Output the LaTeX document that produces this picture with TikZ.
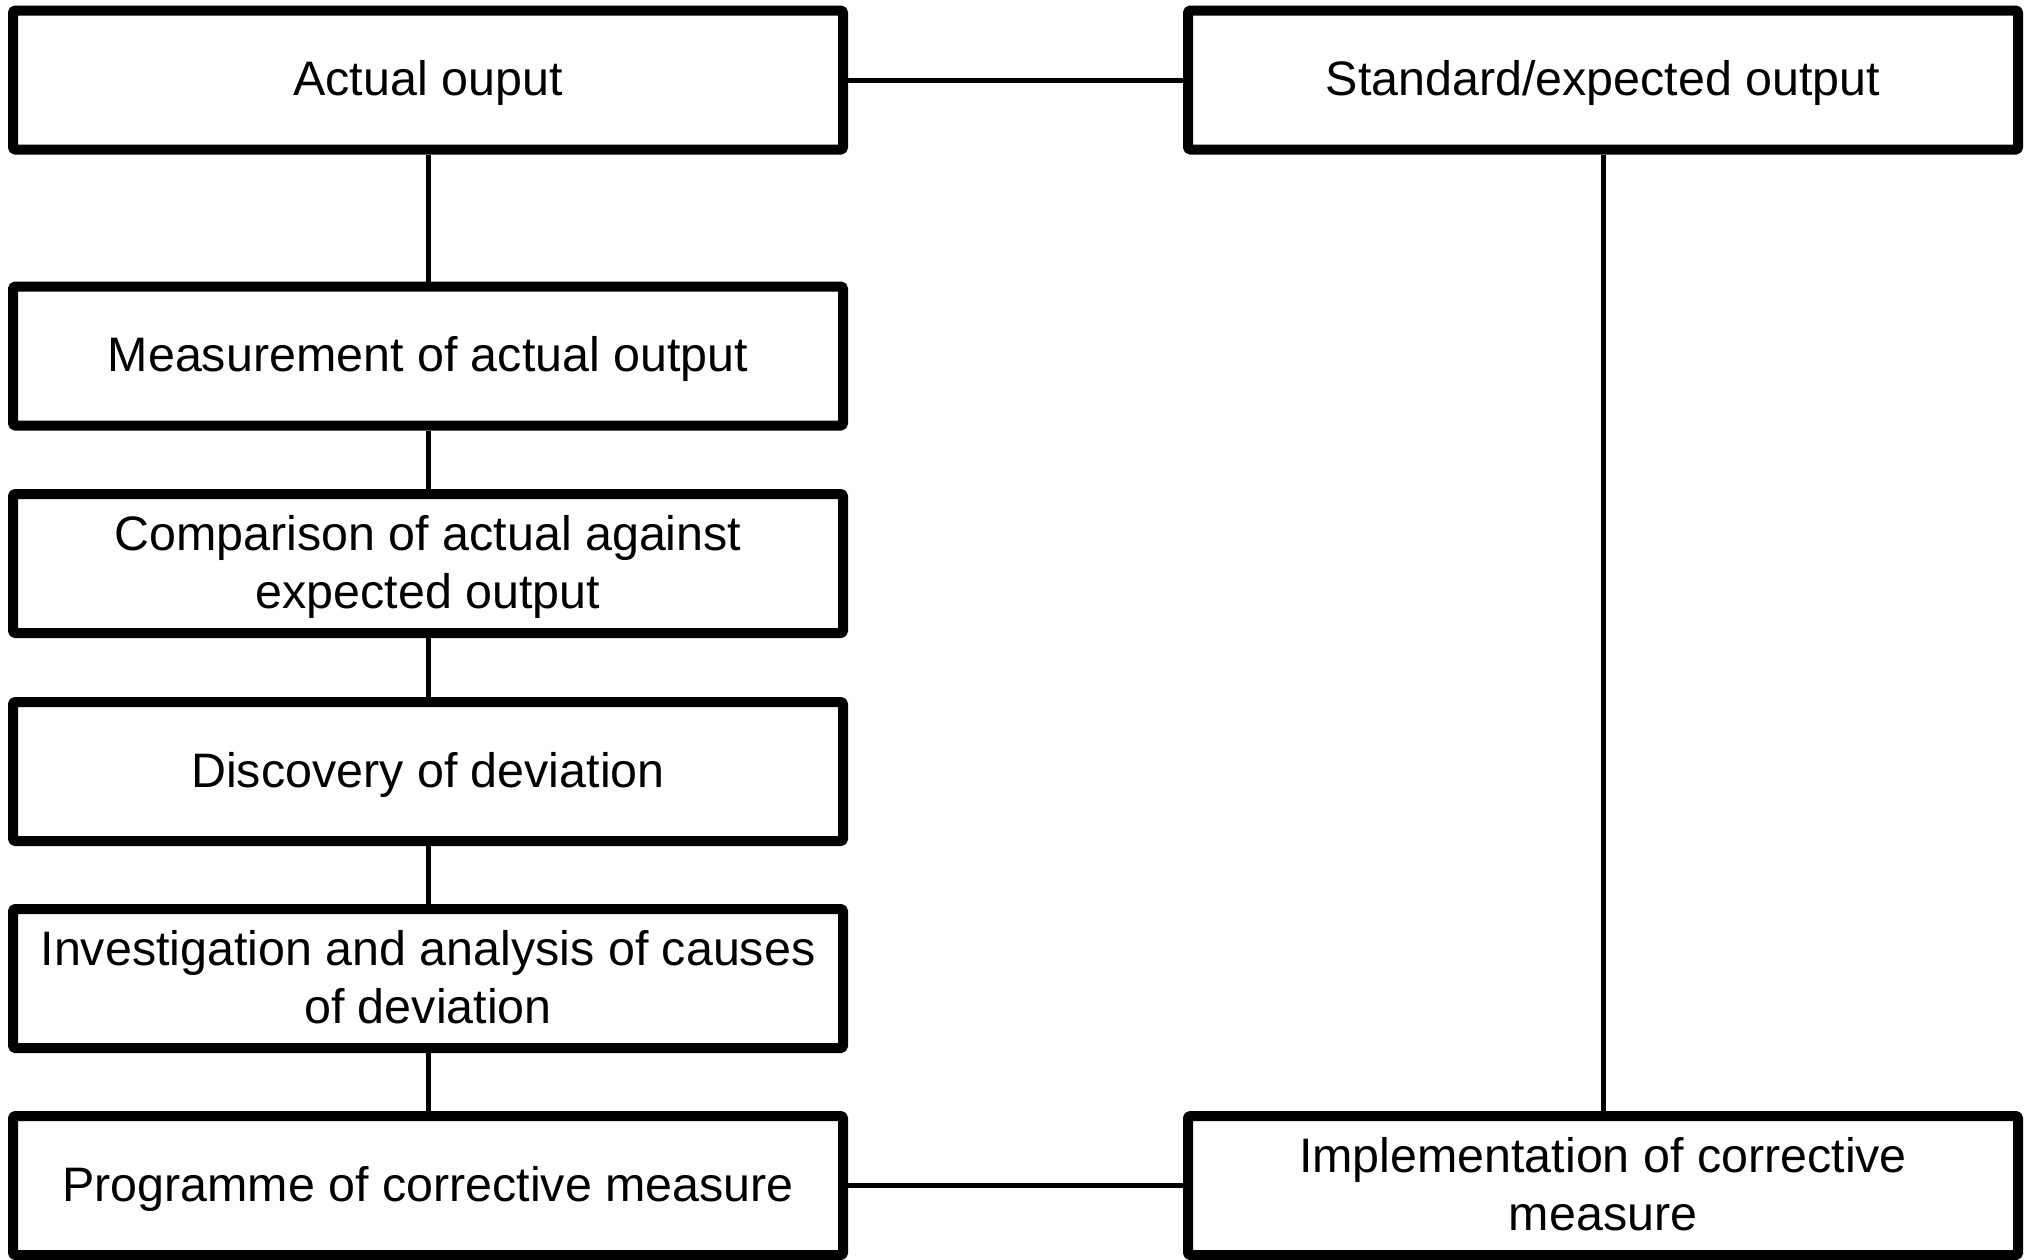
\documentclass[tikz,border=0pt]{standalone}
\usepackage{fontspec}
\setmainfont{Liberation Sans}
\newcommand\lowtext[1]{\raisebox{-4pt}[\height][\depth]{\begin{tabular}{@{}c@{}}#1\end{tabular}}}
\begin{document}
\begin{tikzpicture}[x=1pt,y=-1pt,
  box/.style={draw=black, line width=10pt, line join=round, rounded corners=1.5pt, fill=white,
    minimum width=830pt, minimum height=139pt, inner sep=0pt, align=center,
    font=\fontsize{48.4}{58}\selectfont},
  link/.style={draw=black, line width=5pt}]
\useasboundingbox (0,0) rectangle (2031,1259);
\node[box] (actual)   at (428,80)     {\lowtext{Actual ouput}};
\node[box] (standard) at (1603,80)    {\lowtext{Standard/expected output}};
\node[box] (measure)  at (428,356)    {\lowtext{Measurement of actual output}};
\node[box] (compare)  at (428,563.5)  {\lowtext{Comparison of actual against\\expected output}};
\node[box] (discover) at (428,771.5)  {\lowtext{Discovery of deviation}};
\node[box] (investig) at (428,978.5)  {\lowtext{Investigation and analysis of causes\\of deviation}};
\node[box] (program)  at (428,1185.5) {\lowtext{Programme of corrective measure}};
\node[box] (implem)   at (1603,1185.5){\lowtext{Implementation of corrective\\measure}};
\draw[link] (actual.east) -- (standard.west);
\draw[link] (actual.south) -- (measure.north);
\draw[link] (measure.south) -- (compare.north);
\draw[link] (compare.south) -- (discover.north);
\draw[link] (discover.south) -- (investig.north);
\draw[link] (investig.south) -- (program.north);
\draw[link] (program.east) -- (implem.west);
\draw[link] (standard.south) -- (implem.north);
\end{tikzpicture}
\end{document}
